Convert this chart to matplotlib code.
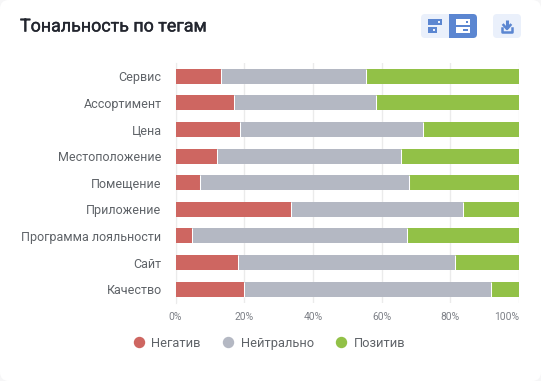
import matplotlib
matplotlib.use("Agg")
import matplotlib.pyplot as plt
import matplotlib.patheffects as pe
from matplotlib.patches import FancyBboxPatch, Rectangle
from matplotlib.lines import Line2D

categories = ["Сервис", "Ассортимент", "Цена", "Местоположение", "Помещение",
              "Приложение", "Программа лояльности", "Сайт", "Качество"]
negative = [13.2, 17.0, 18.8, 12.0, 7.1, 33.6, 4.8, 18.2, 20.0]
neutral = [42.2, 41.3, 53.2, 53.7, 60.9, 50.1, 62.7, 63.3, 71.8]
positive = [44.6, 41.7, 28.0, 34.3, 32.0, 16.3, 32.5, 18.5, 8.2]
series_names = ["Негатив", "Нейтрально", "Позитив"]
colors = ["#CE6661", "#B4B8C3", "#92C147"]
ticks = [0, 20, 40, 60, 80, 100]
tick_labels = ["0%", "20%", "40%", "60%", "80%", "100%"]

W, H = 541, 381
plt.rcParams["font.family"] = ["Roboto", "DejaVu Sans"]
fig = plt.figure(figsize=(W / 100, H / 100), dpi=100, facecolor="white")

# Pixel-coordinate overlay for the card furniture
bg = fig.add_axes([0, 0, 1, 1], zorder=0)
bg.set_xlim(0, W)
bg.set_ylim(H, 0)
bg.axis("off")
bg.add_patch(Rectangle((0, 0), W, H, fc="#F6F6F7", ec="none"))
bg.add_patch(FancyBboxPatch((0, 0), W, H, boxstyle="round,pad=0,rounding_size=9",
                            fc="white", ec="none"))

BTN = "#EAF0FB"
BLUE = "#5B86D1"
bg.add_patch(FancyBboxPatch((421, 14), 56, 24, boxstyle="round,pad=0,rounding_size=4", fc=BTN, ec="none"))
bg.add_patch(FancyBboxPatch((449, 14), 28, 24, boxstyle="round,pad=0,rounding_size=4", fc=BLUE, ec="none"))
bg.add_patch(Rectangle((449, 14), 6, 24, fc=BLUE, ec="none"))
bg.add_patch(FancyBboxPatch((493, 14), 28, 24, boxstyle="round,pad=0,rounding_size=4", fc=BTN, ec="none"))
# icon 1
bg.add_patch(Rectangle((428, 19), 14, 6, fc=BLUE, ec="none"))
bg.add_patch(Rectangle((428, 27), 9, 6, fc=BLUE, ec="none"))
bg.add_patch(Rectangle((438, 21), 2, 2, fc=BTN, ec="none"))
bg.add_patch(Rectangle((433, 29), 2, 2, fc=BTN, ec="none"))
# icon 2
bg.add_patch(Rectangle((456, 19), 14, 6, fc="white", ec="none"))
bg.add_patch(Rectangle((456, 27), 14, 6, fc="white", ec="none"))
bg.add_patch(Rectangle((466, 21), 2, 2, fc=BLUE, ec="none"))
bg.add_patch(Rectangle((463, 29), 5, 2, fc=BLUE, ec="none"))
# download icon
bg.add_line(Line2D([507, 507], [20, 28], color=BLUE, lw=2.2, solid_capstyle="butt"))
bg.add_line(Line2D([503.5, 507, 510.5], [25, 29, 25], color=BLUE, lw=1.8))
bg.add_line(Line2D([502, 502, 512, 512], [28, 32, 32, 28], color=BLUE, lw=1.8, solid_joinstyle="round"))

title = bg.text(20, 26.5, "Тональность по тегам", fontsize=12.85, fontweight="normal", color="#23262F",
                va="center", ha="left")
title.set_path_effects([pe.withStroke(linewidth=0.3, foreground="#23262F")])

# Chart
x0, x1 = 175.5, 519
y0, y1 = 63, 302.5
ax = fig.add_axes([x0 / W, 1 - y1 / H, (x1 - x0) / W, (y1 - y0) / H], zorder=1)
ax.patch.set_alpha(0)
pos = list(range(len(categories)))
bar_h = 0.565
left = [0.0] * len(categories)
for vals, c, name in zip([negative, neutral, positive], colors, series_names):
    ax.barh(pos, vals, left=left, height=bar_h, color=c, edgecolor="none", label=name, zorder=3)
    left = [l + v for l, v in zip(left, vals)]
    if name != series_names[-1]:
        ax.vlines(left, [p - bar_h / 2 for p in pos], [p + bar_h / 2 for p in pos],
                  color="white", lw=0.75, zorder=4)
ax.set_xlim(0, 100)
ax.set_ylim(len(categories) - 0.5, -0.5)
ax.set_yticks(pos, categories)
ax.set_xticks(ticks, tick_labels)
ax.grid(axis="x", color="#EBEBEB", lw=1.0, zorder=0)
ax.set_axisbelow(True)
for s in ["top", "right", "bottom"]:
    ax.spines[s].set_visible(False)
ax.spines["left"].set_color("#EBEBEB")
ax.tick_params(axis="y", length=0, pad=10, labelsize=9, labelcolor="#5F6368")
ax.tick_params(axis="x", length=0, pad=7, labelsize=7.4, labelcolor="#7D8087")
ax.get_xticklabels()[-1].set_ha("right")

# Legend
handles = [Line2D([], [], marker="o", ls="none", ms=7.2, mfc=c, mec=c) for c in colors]
fig.legend(handles, series_names, loc="center left", bbox_to_anchor=(132.5 / W, 1 - 343.5 / H),
           ncol=3, frameon=False, fontsize=9.3, labelcolor="#5F6368", handlelength=1.0,
           handletextpad=0.45, columnspacing=1.63, borderpad=0, borderaxespad=0)

fig.savefig("out.png", dpi=100, facecolor="white")
